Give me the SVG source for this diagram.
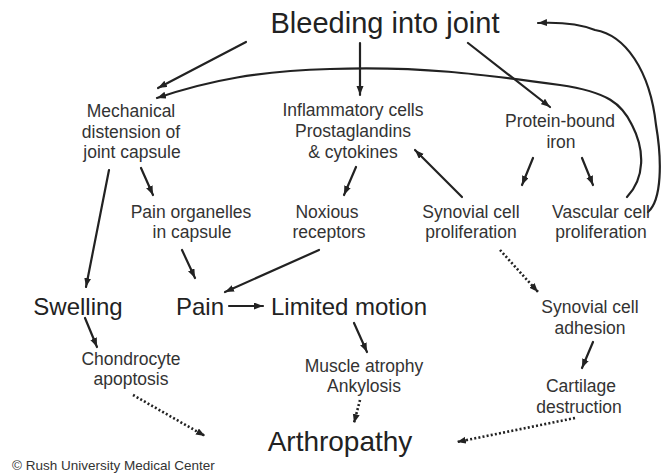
<svg xmlns="http://www.w3.org/2000/svg" width="661" height="476" viewBox="0 0 661 476">
<style>
text{font-family:"Liberation Sans",Arial,Helvetica,sans-serif;fill:#333;text-anchor:middle}
.s{font-size:17.5px}
.m{font-size:24px;fill:#222}
.l{font-size:29px;fill:#222}
.c{font-size:13.5px;text-anchor:start;fill:#333}
.e{fill:none;stroke:#222;stroke-width:2.2;stroke-linecap:round}
.d{stroke-dasharray:2 2.2;stroke-width:2.6;stroke-linecap:butt}
</style>
<defs>
<marker id="ah" markerUnits="userSpaceOnUse" markerWidth="10" markerHeight="8" refX="9" refY="3.5" orient="auto">
<path d="M0,0 L9,3.5 L0,7 z" fill="#222"/>
</marker>
</defs>
<rect width="661" height="476" fill="#fff"/>
<g id="connectors">
<path class="e" d="M246,42 L158,88" marker-end="url(#ah)"/>
<path class="e" d="M360,43 L360,95" marker-end="url(#ah)"/>
<path class="e" d="M468,43 L550,107" marker-end="url(#ah)"/>
<path class="e" d="M533,158 L522,185" marker-end="url(#ah)"/>
<path class="e" d="M582,158 L593,185" marker-end="url(#ah)"/>
<path class="e" d="M462,197 L415,150" marker-end="url(#ah)"/>
<path class="e" d="M109,170 L86,287" marker-end="url(#ah)"/>
<path class="e" d="M141,168 L153,195" marker-end="url(#ah)"/>
<path class="e" d="M356,167 L344,195" marker-end="url(#ah)"/>
<path class="e" d="M182,250 L195,278" marker-end="url(#ah)"/>
<path class="e" d="M319,250 L225,292" marker-end="url(#ah)"/>
<path class="e" d="M229,306 L263,306" marker-end="url(#ah)"/>
<path class="e" d="M85,318 L97,347" marker-end="url(#ah)"/>
<path class="e" d="M354,323 L367,352" marker-end="url(#ah)"/>
<path class="e" d="M593,342 L582,368" marker-end="url(#ah)"/>
<path class="e d" d="M500,250 L538,292" marker-end="url(#ah)"/>
<path class="e d" d="M133,395 L205,436" marker-end="url(#ah)"/>
<path class="e d" d="M360,400 L354,423" marker-end="url(#ah)"/>
<path class="e d" d="M575,418 L457,442" marker-end="url(#ah)"/>
<path class="e" d="M627,197 C645,178 645,150 632,125 C622,104 608,92 560,85 C480,74 420,66 330,69 C260,71 210,80 157,98" marker-end="url(#ah)"/>
<path class="e" d="M648,212 C662,200 662,160 656,125 C650,70 625,35 595,30 C580,24 560,22 538,23" marker-end="url(#ah)"/>
</g>
<g id="bleeding"><text class="l" x="385" y="33">Bleeding into joint</text></g>
<g id="mechanical"><text class="s" x="131" y="117">Mechanical</text><text class="s" x="131" y="137.5">distension of</text><text class="s" x="132" y="158">joint capsule</text></g>
<g id="inflammatory"><text class="s" x="353" y="116">Inflammatory cells</text><text class="s" x="353" y="137">Prostaglandins</text><text class="s" x="353" y="158">&amp; cytokines</text></g>
<g id="protein"><text class="s" x="560" y="127">Protein-bound</text><text class="s" x="561" y="148">iron</text></g>
<g id="painorganelles"><text class="s" x="191" y="218">Pain organelles</text><text class="s" x="192" y="238">in capsule</text></g>
<g id="noxious"><text class="s" x="327" y="218">Noxious</text><text class="s" x="329" y="238">receptors</text></g>
<g id="synovialprolif"><text class="s" x="471" y="218">Synovial cell</text><text class="s" x="471" y="238">proliferation</text></g>
<g id="vascular"><text class="s" x="601" y="218">Vascular cell</text><text class="s" x="601" y="238">proliferation</text></g>
<g id="swelling"><text class="m" x="78" y="315">Swelling</text></g>
<g id="pain"><text class="m" x="200" y="315">Pain</text></g>
<g id="limited"><text class="m" x="349" y="315">Limited motion</text></g>
<g id="adhesion"><text class="s" x="590" y="313">Synovial cell</text><text class="s" x="590" y="334">adhesion</text></g>
<g id="chondrocyte"><text class="s" x="131" y="365">Chondrocyte</text><text class="s" x="131" y="385">apoptosis</text></g>
<g id="muscle"><text class="s" x="364" y="372">Muscle atrophy</text><text class="s" x="364" y="392">Ankylosis</text></g>
<g id="cartilage"><text class="s" x="581" y="392">Cartilage</text><text class="s" x="579" y="413">destruction</text></g>
<g id="arthropathy"><text class="l" x="340" y="451" style="font-size:28px">Arthropathy</text></g>
<text class="c" x="12" y="470">© Rush University Medical Center</text>
</svg>
